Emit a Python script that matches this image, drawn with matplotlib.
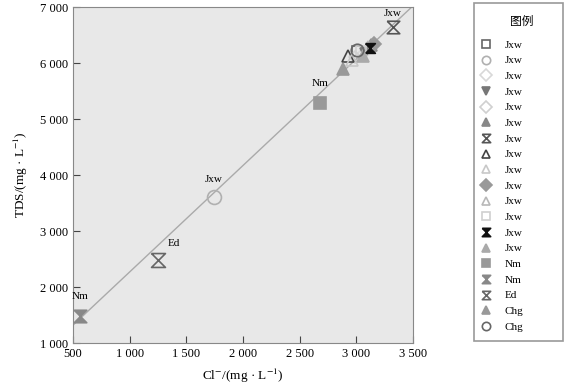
import numpy as np
import matplotlib.pyplot as plt
from matplotlib.patches import Rectangle
from matplotlib.ticker import FuncFormatter

plt.rcParams['font.family'] = ['Liberation Serif', 'Noto Sans CJK SC', 'DejaVu Serif']
plt.rcParams['mathtext.fontset'] = 'stix'

# sample data: Cl- vs TDS (mg/L)
labels = ['Jxw', 'Jxw', 'Jxw', 'Jxw', 'Jxw', 'Jxw', 'Jxw', 'Jxw', 'Jxw', 'Jxw',
          'Jxw', 'Jxw', 'Jxw', 'Jxw', 'Nm', 'Nm', 'Ed', 'Chg', 'Chg']
cl = [3010, 1745, 3050, 3080, 2990, 3130, 3320, 2930, 2960, 3160,
      3100, 3040, 3120, 3060, 2680, 560, 1250, 2880, 3010]
tds = [6220, 3600, 6150, 6180, 6100, 6330, 6650, 6130, 6050, 6340,
       6280, 6210, 6260, 6120, 5290, 1480, 2480, 5900, 6230]

# fitted line end points
line_x = [500, 3500]
line_y = [1320, 7020]

hg = [(-1, 1), (1, 1), (-1, -1), (1, -1), (-1, 1)]  # hourglass marker

# marker, face, edge, size
styles = [
    ('s', 'none', '#666666', 7),
    ('o', 'none', '#b0b0b0', 10),
    ('D', 'none', '#d8d8d8', 6),
    ('v', '#777777', '#777777', 7),
    ('D', 'none', '#d0d0d0', 6),
    ('^', '#888888', '#888888', 8),
    (hg, 'none', '#555555', 9),
    ('^', 'none', '#444444', 8),
    ('^', 'none', '#c8c8c8', 8),
    ('D', '#999999', '#999999', 7),
    ('^', 'none', '#b8b8b8', 8),
    ('s', 'none', '#d0d0d0', 7),
    (hg, '#111111', '#111111', 7),
    ('^', '#aaaaaa', '#aaaaaa', 8),
    ('s', '#999999', '#999999', 9),
    (hg, '#888888', '#888888', 9),
    (hg, 'none', '#666666', 10),
    ('^', '#999999', '#999999', 9),
    ('o', 'none', '#666666', 9),
]

W, H = 568, 389
fig = plt.figure(figsize=(W / 100, H / 100), dpi=100)
ax = fig.add_axes([0.1285, 0.118, 0.5985, 0.864])
ax.set_facecolor('#e8e8e8')

ax.plot(line_x, line_y, color='#aaaaaa', lw=1, zorder=1)

handles = []
for i in range(len(cl)):
    m, fc, ec, ms = styles[i]
    h, = ax.plot(cl[i], tds[i], linestyle='none', marker=m, markersize=ms,
                 markerfacecolor=fc, markeredgecolor=ec, markeredgewidth=1.2,
                 zorder=3, label=labels[i])
    handles.append(h)

# point annotations
for i, dy in [(6, 6), (1, 10), (14, 11), (15, 11)]:
    ax.annotate(labels[i], (cl[i], tds[i]), xytext=(0, dy), textcoords='offset points',
                ha='center', va='bottom', fontsize=8)
ax.annotate(labels[16], (cl[16], tds[16]), xytext=(7, 9), textcoords='offset points',
            ha='left', va='bottom', fontsize=8)

ax.set_xlim(500, 3500)
ax.set_ylim(1000, 7000)
ax.set_xticks(np.arange(500, 3501, 500))
ax.set_yticks(np.arange(1000, 7001, 1000))
fmt = FuncFormatter(lambda v, p: f'{int(v):,}'.replace(',', ' '))
ax.xaxis.set_major_formatter(fmt)
ax.yaxis.set_major_formatter(fmt)
ax.tick_params(direction='in', length=5, labelsize=9, color='#444444')
for s in ax.spines.values():
    s.set_color('#888888')

ax.set_xlabel('Cl$^{-}$/(mg · L$^{-1}$)', fontsize=9.5, labelpad=5)
ax.set_ylabel('TDS/(mg · L$^{-1}$)', fontsize=9.5, labelpad=7)

# legend: box and title drawn by hand, entries by fig.legend
fig.patches.append(Rectangle((474 / W, 1 - 341 / H), 89 / W, 338 / H,
                             transform=fig.transFigure, facecolor='white',
                             edgecolor='#999999', lw=1.2, zorder=0))
fig.text(522 / W, 1 - 22 / H, '图例', ha='center', va='center', fontsize=8.5)
leg = fig.legend(handles=handles, loc='upper left',
                 bbox_to_anchor=(479 / W, 1 - 40 / H), borderaxespad=0, borderpad=0,
                 fontsize=8, frameon=False, labelspacing=0.53,
                 handlelength=1.2, handletextpad=1.1)
for h in leg.legend_handles:
    h.set_markersize(min(h.get_markersize(), 6))

fig.savefig('out.png', dpi=100)
